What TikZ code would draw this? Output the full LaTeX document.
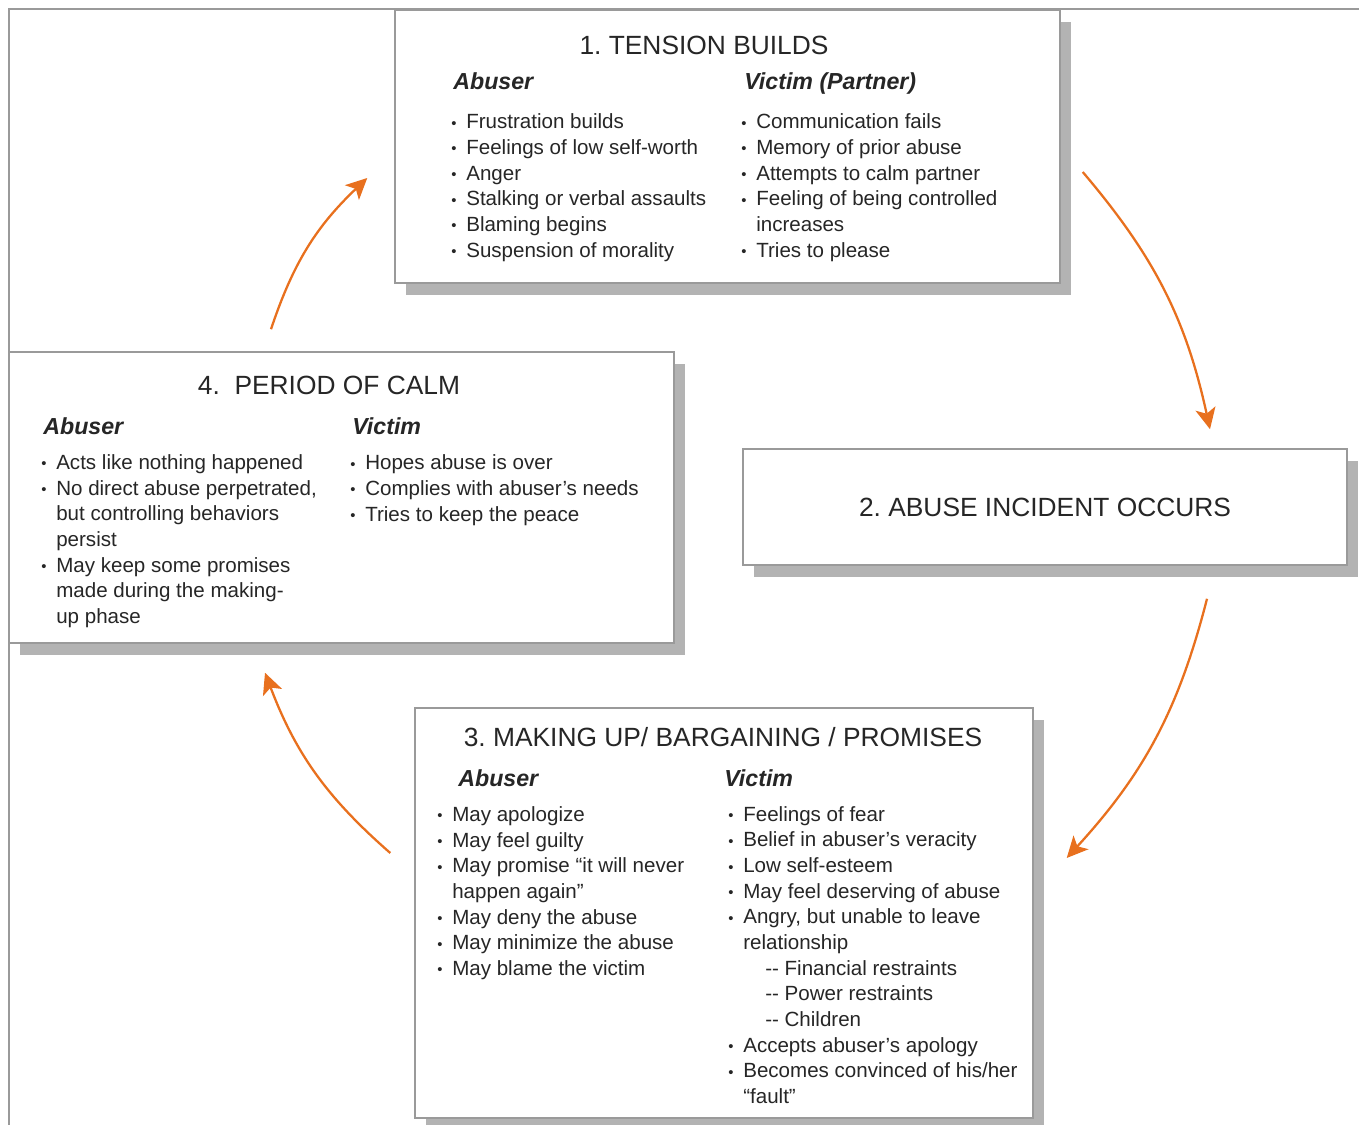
\documentclass[tikz,border=0pt]{standalone}
\usepackage{fontspec}
\setmainfont{Liberation Sans}
\usepackage{tikz}
\usetikzlibrary{arrows.meta,positioning,calc,shadows}
\definecolor{cycle}{HTML}{E8701E}
\definecolor{frame}{HTML}{9A9A9A}
\definecolor{boxshade}{HTML}{B3B3B3}
\definecolor{ink}{HTML}{262626}
\newcommand{\bl}{\makebox[8.5pt][l]{\raisebox{0.03em}{\scalebox{0.72}{\textbullet}}}}
\newcommand{\ind}{\hspace*{8.5pt}}
\tikzset{
    %Define standard arrow tip
    >={Stealth[length=12pt,width=11.5pt,inset=3pt]},
    %Define style for the phase boxes
    phase/.style={
           rectangle,
           draw=frame, line width=0.9pt,
           fill=white,
           inner sep=0pt,
           general shadow={fill=boxshade, shadow xshift=6.3pt, shadow yshift=-6.8pt}},
    phasetitle/.style={
           font=\fontsize{15}{18}\selectfont,
           text=ink,
           inner sep=0pt},
    role/.style={
           font=\fontsize{13.2}{16}\selectfont\bfseries\itshape,
           text=ink,
           anchor=base west,
           inner sep=0pt},
    % lists are placed by the baseline of their last line
    items/.style={
           font=\fontsize{11.7}{14.6}\selectfont,
           text=ink,
           align=left,
           anchor=base west,
           inner sep=0pt},
    % Define arrow style
    pil/.style={
           ->,
           color=cycle,
           line width=1.3pt}
}
\begin{document}
\frenchspacing
\begin{tikzpicture}[x=0.02cm, y=-0.02cm]
\useasboundingbox (0,0) rectangle (1359,1125);
\draw[frame, line width=0.6pt] (9,1125) -- (9,9) -- (1359,9);
% the four phases
\node[phase, minimum width=13.3cm, minimum height=5.46cm](box1) at (727.5,146.5) {};
\node[phase, minimum width=12.08cm, minimum height=2.32cm, font=\fontsize{15}{18}\selectfont, text=ink](box2) at (1045,507) {2. ABUSE INCIDENT OCCURS};
\node[phase, minimum width=12.36cm, minimum height=8.2cm](box3) at (724,913) {};
\node[phase, minimum width=13.3cm, minimum height=5.82cm](box4) at (341.5,497.5) {};
% 1. tension builds
\node[phasetitle, anchor=base](t1) at (704,55) {1. TENSION BUILDS};
\node[role](ab1) at (453,90) {Abuser};
\node[role](vi1) at (744,90) {Victim (Partner)};
\node[items](ab1l) at (451,257) {\bl Frustration builds\\ \bl Feelings of low self-worth\\ \bl Anger\\ \bl Stalking or verbal assaults\\ \bl Blaming begins\\ \bl Suspension of morality};
\node[items](vi1l) at (741,257) {\bl Communication fails\\ \bl Memory of prior abuse\\ \bl Attempts to calm partner\\ \bl Feeling of being controlled\\ \ind increases\\ \bl Tries to please};
% 4. period of calm
\node[phasetitle, anchor=base](t4) at (329,394) {4.~~PERIOD OF CALM};
\node[role](ab4) at (43,434) {Abuser};
\node[role](vi4) at (352,434) {Victim};
\node[items](ab4l) at (41,623.5) {\bl Acts like nothing happened\\ \bl No direct abuse perpetrated,\\ \ind but controlling behaviors\\ \ind persist\\ \bl May keep some promises\\ \ind made during the making-\\ \ind up phase};
\node[items](vi4l) at (350,521) {\bl Hopes abuse is over\\ \bl Complies with abuser's needs\\ \bl Tries to keep the peace};
% 3. making up
\node[phasetitle, anchor=base](t3) at (723,746) {3. MAKING UP/ BARGAINING / PROMISES};
\node[role](ab3) at (458,786) {Abuser};
\node[role](vi3) at (724,786) {Victim};
\node[items](ab3l) at (437,975.5) {\bl May apologize\\ \bl May feel guilty\\ \bl May promise “it will never\\ \ind happen again”\\ \bl May deny the abuse\\ \bl May minimize the abuse\\ \bl May blame the victim};
\node[items](vi3l) at (728,1103.5) {\bl Feelings of fear\\ \bl Belief in abuser's veracity\\ \bl Low self-esteem\\ \bl May feel deserving of abuse\\ \bl Angry, but unable to leave\\ \ind relationship\\ \ind\hspace*{12.5pt}{-}{-} Financial restraints\\ \ind\hspace*{12.5pt}{-}{-} Power restraints\\ \ind\hspace*{12.5pt}{-}{-} Children\\ \bl Accepts abuser's apology\\ \bl Becomes convinced of his/her\\ \ind “fault”};
% arrow ends
\coordinate (a1s) at ($(box1.east)+(22,25.5)$);
\coordinate (a1e) at ($(box2.north)+(165,-19)$);
\coordinate (a2s) at ($(box2.south)+(162,33)$);
\coordinate (a2e) at ($(box3.east)+(33,-55)$);
\coordinate (a3s) at ($(box3.west)+(-24,-60)$);
\coordinate (a3e) at ($(box4.south)+(-76.5,29)$);
\coordinate (a4s) at ($(box4.north)+(-70.5,-22)$);
\coordinate (a4e) at ($(box1.west)+(-27,31.5)$);
\path[pil]
	(a1s) edge[bend left=14] (a1e)
	(a2s) edge[bend left=14] (a2e)
	(a3s) edge[bend left=14] (a3e)
	(a4s) edge[bend left=14] (a4e);
\end{tikzpicture}
\end{document}
